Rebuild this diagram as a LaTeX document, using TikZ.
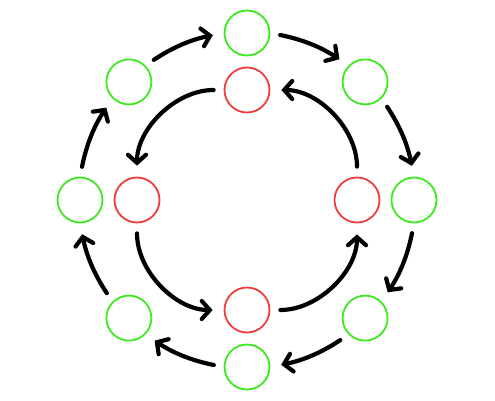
\documentclass[tikz,border=0pt]{standalone}
\usetikzlibrary{arrows.meta, positioning, calc}

\definecolor{ringgreen}{RGB}{60,235,30}
\definecolor{ringred}{RGB}{240,60,60}

\begin{document}
\begin{tikzpicture}[
    x=1pt, y=1pt,
    outer/.style={draw=ringgreen, circle, line width=1.8pt,
                  minimum size=45pt, inner sep=0pt},
    inner/.style={draw=ringred, circle, line width=1.8pt,
                  minimum size=45pt, inner sep=0pt},
    flow/.style={line width=4.2pt, line cap=round,
                 -{Straight Barb[length=8pt, width=18pt, line cap=round]},
                 shorten <=10pt, shorten >=11pt}
  ]
  \useasboundingbox (0,0) rectangle (495,400);
  \coordinate (c) at (247,200);

  % outer ring, clockwise
  \node[outer] (ot)  at ($(c)+(90:167)$)   {};
  \node[outer] (otr) at ($(c)+(45:167)$)   {};
  \node[outer] (or)  at ($(c)+(0:167)$)    {};
  \node[outer] (obr) at ($(c)+(-45:167)$)  {};
  \node[outer] (ob)  at ($(c)+(-90:167)$)  {};
  \node[outer] (obl) at ($(c)+(-135:167)$) {};
  \node[outer] (ol)  at ($(c)+(180:167)$)  {};
  \node[outer] (otl) at ($(c)+(135:167)$)  {};

  % inner ring, counterclockwise
  \node[inner] (it) at ($(c)+(90:110)$)  {};
  \node[inner] (ir) at ($(c)+(0:110)$)   {};
  \node[inner] (ib) at ($(c)+(-90:110)$) {};
  \node[inner] (il) at ($(c)+(180:110)$) {};

  \draw[flow] (otl.45)  to[bend left=11] (ot.180);
  \draw[flow] (ot.0)    to[bend left=11] (otr.135);
  \draw[flow] (otr.-45) to[bend left=11] (or.90);
  \draw[flow] (or.-90)  to[bend left=11] (obr.45);
  \draw[flow] (obr.-135) to[bend left=11] (ob.0);
  \draw[flow] (ob.180)  to[bend left=11] (obl.-45);
  \draw[flow] (obl.135) to[bend left=11] (ol.-90);
  \draw[flow] (ol.90)   to[bend left=11] (otl.-135);

  \draw[flow] (it.180) to[bend right=45] (il.90);
  \draw[flow] (il.-90) to[bend right=45] (ib.180);
  \draw[flow] (ib.0)   to[bend right=45] (ir.-90);
  \draw[flow] (ir.90)  to[bend right=45] (it.0);
\end{tikzpicture}
\end{document}
